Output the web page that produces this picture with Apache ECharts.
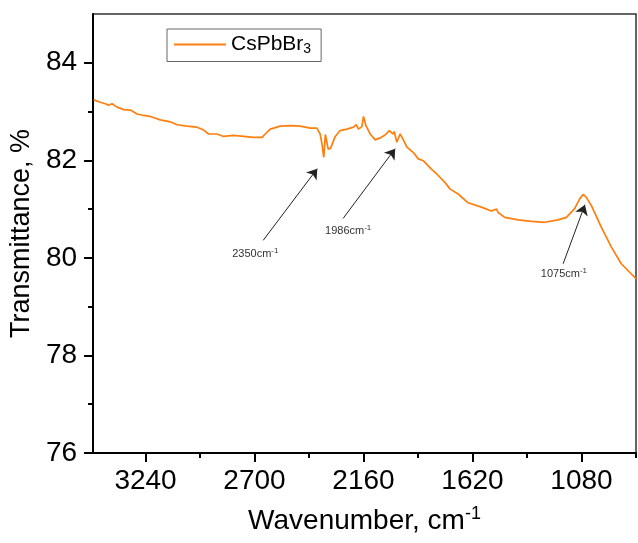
<!DOCTYPE html>
<html>
<head>
<meta charset="utf-8">
<style>
  html, body { margin: 0; padding: 0; background: #fff; }
  #chart { width: 638px; height: 543px; }
</style>
<script src="https://cdn.jsdelivr.net/npm/echarts@6/dist/echarts.min.js"></script>
</head>
<body>
<div id="chart"></div>
<script>
// FTIR spectrum of CsPbBr3
var wavenumber = [
  3497, 3464, 3439, 3424, 3406, 3381, 3348, 3315, 3282, 3249,
  3216, 3167, 3117, 3084, 3035, 2985, 2952, 2928, 2886, 2853,
  2804, 2754, 2705, 2663, 2647, 2622, 2573, 2523, 2474, 2424,
  2391, 2375, 2366, 2357, 2349, 2342, 2335, 2323, 2300, 2276,
  2242, 2210, 2196, 2185, 2168, 2160, 2148, 2127, 2102, 2078,
  2053, 2032, 2015, 2008, 1995, 1979, 1965, 1945, 1913, 1889,
  1863, 1824, 1797, 1757, 1731, 1691, 1642, 1576, 1527, 1501,
  1493, 1460, 1394, 1328, 1262, 1196, 1155, 1114, 1089, 1072,
  1056, 1031, 982, 932, 883, 833, 809
];
var transmittance = [
  83.24, 83.19, 83.16, 83.13, 83.16, 83.09, 83.04, 83.03, 82.95, 82.92,
  82.90, 82.83, 82.79, 82.73, 82.70, 82.68, 82.62, 82.54, 82.54, 82.49,
  82.51, 82.49, 82.47, 82.47, 82.54, 82.64, 82.70, 82.71, 82.70, 82.66,
  82.66, 82.54, 82.34, 82.06, 82.53, 82.54, 82.23, 82.25, 82.49, 82.61,
  82.64, 82.68, 82.73, 82.64, 82.69, 82.90, 82.71, 82.54, 82.42, 82.46,
  82.52, 82.61, 82.54, 82.59, 82.37, 82.54, 82.44, 82.27, 82.16, 82.03,
  81.99, 81.82, 81.72, 81.55, 81.41, 81.31, 81.13, 81.04, 80.96, 81.00,
  80.93, 80.83, 80.78, 80.75, 80.73, 80.78, 80.83, 81.01, 81.21, 81.30,
  81.24, 81.07, 80.63, 80.22, 79.88, 79.67, 79.57
];

var xMajorTicks = [3240, 2700, 2160, 1620, 1080];
var xMinorTicks = [2970, 2430, 1890, 1350, 810];
var yMajorTicks = [76, 78, 80, 82, 84];
var yMinorTicks = [77, 79, 81, 83];

// annotated peaks: label, arrow start, arrow tip, label position (data units)
var peakNames = ['2350', '1986', '1075'];
var arrowFrom = [[2657, 80.36], [2261, 80.81], [1171, 79.88]];
var arrowTo = [[2389, 81.83], [2003, 82.24], [1063, 81.09]];
var labelAt = [[2696, 80.09], [2236, 80.56], [1167, 79.68]];

var FONT = 'Liberation Sans, Arial, sans-serif';
var ORANGE = '#ff7f0e';

var dom = document.getElementById('chart');
var myChart = echarts.init(dom, null, { renderer: 'canvas' });

var points = wavenumber.map(function (w, i) { return [w, transmittance[i]]; });

var arrowData = peakNames.map(function (n, i) {
  return [{ coord: arrowFrom[i] }, { coord: arrowTo[i] }];
});
var labelData = peakNames.map(function (n, i) {
  return { name: n, coord: labelAt[i] };
});

function plain(v) { return String(v); }

var option = {
  animation: false,
  backgroundColor: '#fff',
  textStyle: { fontFamily: FONT },
  grid: {
    left: 93, right: 2, top: 14, bottom: 90,
    show: true, borderColor: '#333', borderWidth: 1.5
  },
  legend: {
    left: 167, top: 29,
    orient: 'horizontal',
    borderColor: '#666', borderWidth: 1,
    padding: [5, 10, 5, 7],
    itemWidth: 52, itemHeight: 2,
    icon: 'rect',
    formatter: function () { return '{a|CsPbBr}{s|3}'; },
    textStyle: {
      color: '#000',
      fontFamily: FONT,
      rich: {
        a: { fontSize: 21, fontFamily: FONT, color: '#000' },
        s: { fontSize: 14, fontFamily: FONT, color: '#000', padding: [10, 0, 0, 0] }
      }
    },
    data: ['CsPbBr3']
  },
  xAxis: [{
    type: 'value', inverse: true, min: 810, max: 3500, position: 'bottom',
    name: '{a|Wavenumber, cm}{s|-1}',
    nameLocation: 'middle', nameGap: 52,
    nameTextStyle: {
      rich: {
        a: { fontSize: 28, fontFamily: FONT, color: '#000' },
        s: { fontSize: 18, fontFamily: FONT, color: '#000', padding: [0, 0, 14, 0] }
      }
    },
    axisLine: { show: true, onZero: false, lineStyle: { color: '#000', width: 2 } },
    axisTick: { show: true, length: 9, customValues: xMajorTicks, lineStyle: { color: '#000', width: 2 } },
    axisLabel: { customValues: xMajorTicks, formatter: plain, fontSize: 28, color: '#000', margin: 14, fontFamily: FONT },
    splitLine: { show: false }
  }, {
    type: 'value', inverse: true, min: 810, max: 3500, position: 'bottom',
    axisLine: { show: false, onZero: false },
    axisTick: { show: true, length: 5, customValues: xMinorTicks, lineStyle: { color: '#000', width: 2 } },
    axisLabel: { show: false },
    splitLine: { show: false }
  }],
  yAxis: [{
    type: 'value', min: 76, max: 85, position: 'left',
    name: 'Transmittance, %',
    nameLocation: 'middle', nameGap: 54,
    nameTextStyle: { fontSize: 27, fontFamily: FONT, color: '#000' },
    axisLine: { show: true, onZero: false, lineStyle: { color: '#000', width: 2 } },
    axisTick: { show: true, length: 9, customValues: yMajorTicks, lineStyle: { color: '#000', width: 2 } },
    axisLabel: { customValues: yMajorTicks, formatter: plain, fontSize: 28, color: '#000', margin: 16, fontFamily: FONT },
    splitLine: { show: false }
  }, {
    type: 'value', min: 76, max: 85, position: 'left',
    axisLine: { show: false, onZero: false },
    axisTick: { show: true, length: 5, customValues: yMinorTicks, lineStyle: { color: '#000', width: 2 } },
    axisLabel: { show: false },
    splitLine: { show: false }
  }],
  series: [{
    name: 'CsPbBr3',
    type: 'line',
    xAxisIndex: 0, yAxisIndex: 0,
    data: points,
    showSymbol: false,
    symbol: 'none',
    color: ORANGE,
    lineStyle: { color: ORANGE, width: 1.7 },
    silent: true,
    markLine: {
      silent: true,
      symbol: ['none', 'arrow'],
      symbolSize: 10,
      lineStyle: { color: '#222', width: 1, type: 'solid' },
      label: { show: false },
      emphasis: { disabled: true },
      data: arrowData
    },
    markPoint: {
      silent: true,
      symbol: 'circle',
      symbolSize: 0,
      label: {
        show: true,
        position: 'inside',
        formatter: function (p) { return '{a|' + p.name + 'cm}{s|-1}'; },
        rich: {
          a: { fontSize: 11, fontFamily: FONT, color: '#333' },
          s: { fontSize: 8, fontFamily: FONT, color: '#333', padding: [0, 0, 6, 0] }
        }
      },
      data: labelData
    }
  }]
};

if (option && typeof option === 'object') {
  myChart.setOption(option, true);
}
</script>
</body>
</html>
